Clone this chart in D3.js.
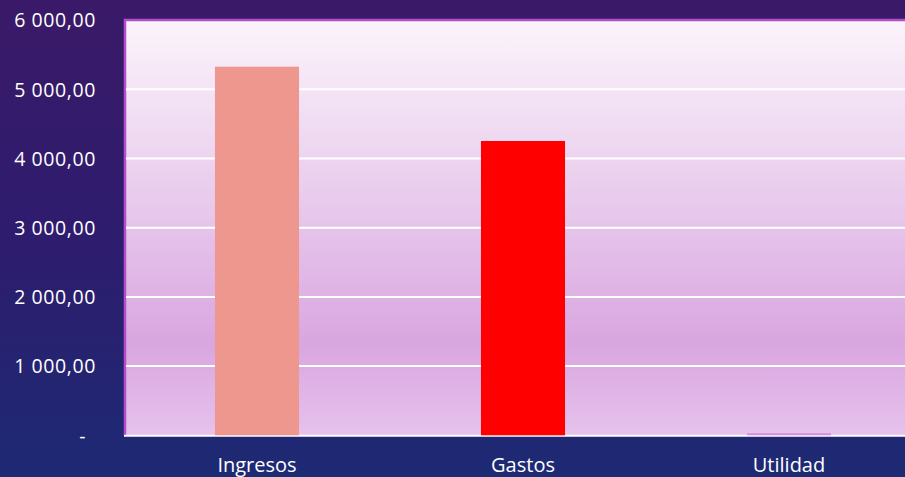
<!DOCTYPE html>
<html><head><meta charset="utf-8">
<script src="https://cdn.jsdelivr.net/npm/d3@7"></script>
<style>html,body{margin:0;padding:0;overflow:hidden;background:#2a1f6e}</style>
</head><body>
<svg id="c" width="905" height="477"></svg>
<script>
const categories = ["Ingresos", "Gastos", "Utilidad"];
const values = [5327, 4253, 30];
const barColors = ["#ee978f", "#ff0000", "#d98ee0"];
const tickValues = [0, 1000, 2000, 3000, 4000, 5000, 6000];
const tickLabels = ["-", "1 000,00", "2 000,00", "3 000,00", "4 000,00", "5 000,00", "6 000,00"];

(function(){
const svg = d3.select("#c");
const W = 905, H = 477;
const defs = svg.append("defs");
const bg = defs.append("linearGradient").attr("id","bg").attr("x1",0).attr("y1",0).attr("x2",0).attr("y2",1);
bg.append("stop").attr("offset","0%").attr("stop-color","#3a1a68");
bg.append("stop").attr("offset","50%").attr("stop-color","#2e1c6e");
bg.append("stop").attr("offset","100%").attr("stop-color","#1d2a74");
const pg = defs.append("linearGradient").attr("id","pg").attr("x1",0).attr("y1",0).attr("x2",0).attr("y2",1);
pg.append("stop").attr("offset","0%").attr("stop-color","#fbf4fb");
pg.append("stop").attr("offset","45%").attr("stop-color","#e8c9ec");
pg.append("stop").attr("offset","78%").attr("stop-color","#d9a6e0");
pg.append("stop").attr("offset","100%").attr("stop-color","#e6c2ec");

svg.append("rect").attr("width",W).attr("height",H).attr("fill","url(#bg)");

const pLeft = 124, pRight = 922;
const y = d3.scaleLinear().domain([0,6000]).range([435.3, 20.1]);
const x = d3.scaleBand().domain(categories).range([pLeft, pRight]).paddingInner(0).paddingOuter(0);
const barW = x.bandwidth()*0.316;

svg.append("rect").attr("x",pLeft).attr("y",y(6000)).attr("width",pRight-pLeft).attr("height",y(0)-y(6000)).attr("fill","url(#pg)");
svg.append("path").attr("d",`M${pLeft+1},${y(0)} V${y(6000)} H${W}`).attr("fill","none").attr("stroke","#b44ccc").attr("stroke-width",2.5);

svg.append("g").selectAll("line").data(tickValues.filter(d=>d>0 && d<6000)).join("line")
  .attr("x1",pLeft+2).attr("x2",W).attr("y1",d=>y(d)).attr("y2",d=>y(d))
  .attr("stroke","#ffffff").attr("stroke-width",2);

svg.append("line").attr("x1",pLeft).attr("x2",W).attr("y1",y(0)+0.5).attr("y2",y(0)+0.5).attr("stroke","#ffffff").attr("stroke-width",2);

svg.append("g").selectAll("rect").data(values).join("rect")
  .attr("x",(d,i)=>x(categories[i])+(x.bandwidth()-barW)/2)
  .attr("y",d=>y(d)).attr("width",barW).attr("height",d=>y(0)-y(d))
  .attr("fill",(d,i)=>barColors[i]);

const yAxis = d3.axisLeft(y).tickValues(tickValues).tickFormat((d,i)=>tickLabels[i]).tickSize(0).tickPadding(0);
const ga = svg.append("g").attr("transform","translate(96,0)").call(yAxis);
ga.select(".domain").remove();
ga.selectAll("text").attr("fill","#ffffff").attr("font-family","'Open Sans', sans-serif").attr("font-size","19.5px").attr("letter-spacing","0.6px").attr("dy","0.35em");
ga.selectAll(".tick").filter(d=>d===0).select("text").attr("x",-10);

const xAxis = d3.axisBottom(x).tickSize(0).tickPadding(0);
const gx = svg.append("g").attr("transform","translate(0,"+(y(0))+")").call(xAxis);
gx.select(".domain").remove();
gx.selectAll("text").attr("fill","#ffffff").attr("font-family","'Open Sans', sans-serif").attr("font-size","20px").attr("y",36.5).attr("dy",0);
})();
</script>
</body></html>
